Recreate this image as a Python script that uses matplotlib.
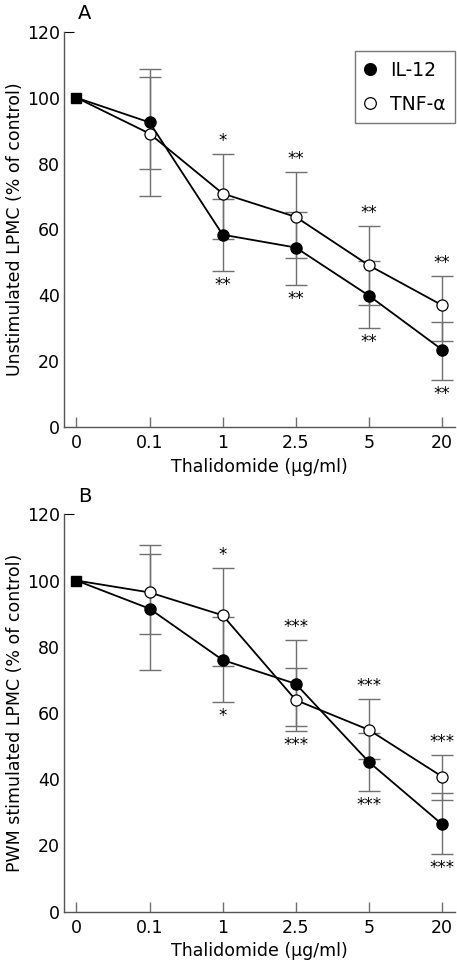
import matplotlib.pyplot as plt

doses = ['0', '0.1', '1', '2.5', '5', '20']

# panel A: unstimulated LPMC
a_il12 = [100, 92.5, 58.4, 54.5, 39.9, 23.5]
a_il12_lo = [100, 78.3, 47.4, 43.0, 30.2, 14.2]
a_il12_hi = [100, 108.6, 69.1, 65.2, 50.4, 31.9]
a_tnf = [100, 89.1, 70.9, 63.8, 49.1, 37.0]
a_tnf_lo = [100, 70.1, 57.2, 51.3, 37.2, 26.1]
a_tnf_hi = [100, 106.4, 83.0, 77.3, 61.1, 45.8]
a_stars_up = ['', '', '*', '**', '**', '**']
a_stars_dn = ['', '', '**', '**', '**', '**']

# panel B: PWM stimulated LPMC
b_il12 = [100, 91.5, 76.0, 68.8, 45.2, 26.4]
b_il12_lo = [100, 73.1, 63.2, 56.2, 36.3, 17.4]
b_il12_hi = [100, 108.1, 88.9, 81.9, 54.1, 35.8]
b_tnf = [100, 96.4, 89.5, 63.9, 54.9, 40.8]
b_tnf_lo = [100, 83.9, 74.2, 54.6, 46.0, 33.7]
b_tnf_hi = [100, 110.6, 103.7, 73.6, 64.1, 47.4]
b_stars_up = ['', '', '*', '***', '***', '***']
b_stars_dn = ['', '', '*', '***', '***', '***']

plt.rcParams['font.family'] = ['DejaVu Sans']
GRAY = '#707070'

fig = plt.figure(figsize=(4.57, 9.64), dpi=100)
axA = fig.add_axes([0.140, 0.557, 0.856, 0.410])
axB = fig.add_axes([0.140, 0.0543, 0.856, 0.4122])


def draw_panel(ax, il12, il12_lo, il12_hi, tnf, tnf_lo, tnf_hi, up, dn, ylabel, letter):
    x = list(range(len(doses)))
    for m, lo, hi in [(il12, il12_lo, il12_hi), (tnf, tnf_lo, tnf_hi)]:
        err = [[mm - l for mm, l in zip(m, lo)], [h - mm for mm, h in zip(m, hi)]]
        ax.errorbar(x[1:], m[1:], yerr=[err[0][1:], err[1][1:]], fmt='none',
                    ecolor=GRAY, elinewidth=1.0, capsize=8, capthick=1.0, zorder=1)
    ax.plot(x, il12, color='black', lw=1.3, zorder=2)
    ax.plot(x, tnf, color='black', lw=1.3, zorder=2)
    l1, = ax.plot(x[1:], il12[1:], 'o', ms=8, mfc='black', mec='black', zorder=3, label='IL-12')
    l2, = ax.plot(x[1:], tnf[1:], 'o', ms=8, mfc='white', mec='black', mew=0.9, zorder=3, label='TNF-α')
    ax.plot([0], [il12[0]], 's', ms=7, color='black', zorder=4)
    # significance marks
    for i in x:
        top = max(il12_hi[i], tnf_hi[i])
        bot = min(il12_lo[i], tnf_lo[i])
        if up[i]:
            ax.text(i, top + 1.2, up[i], ha='center', va='bottom', fontsize=12)
        if dn[i]:
            ax.text(i, bot - 1.5, dn[i], ha='center', va='top', fontsize=12)
    ax.set_xlim(-0.17, 5.18)
    ax.set_ylim(0, 120)
    ax.set_yticks([0, 20, 40, 60, 80, 100, 120])
    ax.set_xticks(x)
    ax.set_xticklabels(doses)
    for s in ['top', 'right']:
        ax.spines[s].set_visible(False)
    for s in ['left', 'bottom']:
        ax.spines[s].set_color('#555555')
        ax.spines[s].set_linewidth(1.0)
    ax.tick_params(axis='x', direction='in', length=7, color=GRAY, width=1.0,
                   labelsize=12.5, pad=5)
    ax.tick_params(axis='y', direction='in', length=0, labelsize=12.5, pad=3)
    t = ax.yaxis.get_major_ticks()[-1]
    t.tick1line.set_markersize(7)
    t.tick1line.set_color(GRAY)
    ax.set_xlabel('Thalidomide (µg/ml)', fontsize=12.5, labelpad=4)
    ax.set_ylabel(ylabel, fontsize=12.5, labelpad=2)
    ax.text(0.035, 1.022, letter, transform=ax.transAxes, fontsize=14, ha='left', va='bottom')
    return l1, l2


h1, h2 = draw_panel(axA, a_il12, a_il12_lo, a_il12_hi, a_tnf, a_tnf_lo, a_tnf_hi,
                    a_stars_up, a_stars_dn, 'Unstimulated LPMC (% of control)', 'A')
draw_panel(axB, b_il12, b_il12_lo, b_il12_hi, b_tnf, b_tnf_lo, b_tnf_hi,
           b_stars_up, b_stars_dn, 'PWM stimulated LPMC (% of control)', 'B')

leg = axA.legend(handles=[h1, h2], loc='upper right', bbox_to_anchor=(1.0, 0.951),
                 borderaxespad=0, fontsize=13.5, frameon=True, fancybox=False,
                 handlelength=0.7, handletextpad=0.7, borderpad=0.5, labelspacing=0.8,
                 markerscale=1.05)
leg.get_frame().set_edgecolor('#555555')
leg.get_frame().set_linewidth(1.0)

fig.savefig('out.png', dpi=100)
